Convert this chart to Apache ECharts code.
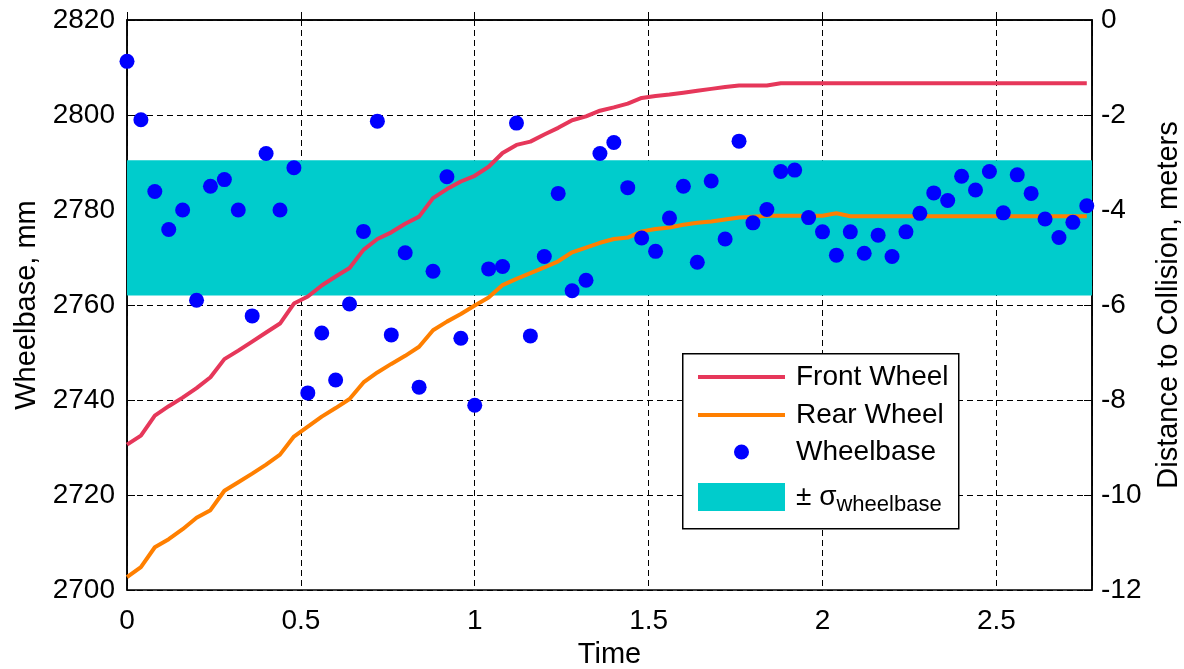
<!DOCTYPE html>
<html><head><meta charset="utf-8">
<script src="https://cdn.jsdelivr.net/npm/echarts@6/dist/echarts.min.js"></script>
<style>html,body{margin:0;padding:0;background:#fff}#c{width:1184px;height:669px}</style>
</head><body><div id="c"></div><script>
const times = [0,0.04,0.08,0.12,0.16,0.2,0.24,0.28,0.32,0.36,0.4,0.44,0.48,0.52,0.56,0.6,0.64,0.68,0.72,0.76,
  0.8,0.84,0.88,0.92,0.96,1.0,1.04,1.08,1.12,1.16,1.2,1.24,1.28,1.32,1.36,1.4,1.44,1.48,1.52,1.56,
  1.6,1.64,1.68,1.72,1.76,1.8,1.84,1.88,1.92,1.96,2.0,2.04,2.08,2.12,2.16,2.2,2.24,2.28,2.32,2.36,
  2.4,2.44,2.48,2.52,2.56,2.6,2.64,2.68,2.72,2.76];
const wheelbase = [2811.3,2799.0,2783.9,2775.9,2780.0,2761.0,2785.0,2786.4,2780.0,2757.7,
  2791.9,2780.0,2788.9,2741.5,2754.1,2744.2,2760.2,2775.5,2798.7,2753.7,
  2771.0,2742.7,2767.1,2787.0,2753.0,2738.9,2767.6,2768.1,2798.3,2753.5,
  2770.2,2783.5,2763.0,2765.2,2791.9,2794.2,2784.7,2774.1,2771.3,2778.3,
  2785.0,2769.0,2786.1,2773.9,2794.5,2777.3,2780.1,2788.1,2788.4,2778.4,
  2775.4,2770.5,2775.4,2770.9,2774.7,2770.2,2775.4,2779.3,2783.6,2782.0,
  2787.1,2784.2,2788.1,2779.4,2787.4,2783.5,2778.1,2774.2,2777.4,2780.9];
const frontWheel = [-8.94,-8.75,-8.33,-8.13,-7.95,-7.75,-7.52,-7.14,-6.96,-6.77,
  -6.58,-6.39,-5.97,-5.82,-5.59,-5.40,-5.22,-4.84,-4.61,-4.47,
  -4.29,-4.14,-3.75,-3.56,-3.40,-3.28,-3.09,-2.80,-2.63,-2.56,
  -2.41,-2.27,-2.11,-2.03,-1.91,-1.84,-1.76,-1.64,-1.60,-1.57,
  -1.53,-1.49,-1.45,-1.41,-1.38,-1.38,-1.38,-1.33,-1.33,-1.33,
  -1.33,-1.33,-1.33,-1.33,-1.33,-1.33,-1.33,-1.33,-1.33,-1.33,
  -1.33,-1.33,-1.33,-1.33,-1.33,-1.33,-1.33,-1.33,-1.33,-1.33];
const rearWheel = [-11.73,-11.52,-11.10,-10.93,-10.72,-10.48,-10.32,-9.91,-9.73,-9.55,
  -9.36,-9.15,-8.77,-8.56,-8.35,-8.17,-7.98,-7.63,-7.42,-7.24,
  -7.07,-6.88,-6.53,-6.35,-6.19,-6.01,-5.84,-5.58,-5.45,-5.33,
  -5.21,-5.08,-4.89,-4.79,-4.69,-4.61,-4.58,-4.45,-4.40,-4.37,
  -4.31,-4.27,-4.24,-4.20,-4.16,-4.14,-4.12,-4.12,-4.12,-4.12,
  -4.12,-4.07,-4.13,-4.13,-4.13,-4.13,-4.13,-4.13,-4.13,-4.13,
  -4.13,-4.13,-4.13,-4.13,-4.13,-4.13,-4.13,-4.13,-4.13,-4.13];
const sigmaBand = [2762, 2790.5];
const xRange = [0, 2.775];
const leftRange = [2700, 2820];
const rightRange = [-12, 0];
const seriesNames = ['Front Wheel', 'Rear Wheel', 'Wheelbase', '± σwheelbase'];

const FONT = 'Liberation Sans, Arial, Helvetica, sans-serif';
const FS = 28;
const FT = 29;
const chart = echarts.init(document.getElementById('c'), null, {renderer: 'canvas'});
const pair = arr => times.map((t, i) => [t, arr[i]]);
const legendText = {fontFamily: FONT, fontSize: FS, color: '#000', lineHeight: 30, padding: [0, 0, 0, 6]};
const legendBase = {left: 698, orient: 'vertical', align: 'left', itemWidth: 87, selectedMode: false, padding: 0, textStyle: legendText};
// dot centred in an 87x15 icon box (corner points only fix the icon extent)
const dotIcon = 'path://M0,0L0,0M87,15L87,15M36,7.5A7.5,7.5,0,1,1,51,7.5A7.5,7.5,0,1,1,36,7.5Z';
chart.setOption({
  backgroundColor: '#fff',
  animation: false,
  textStyle: {fontFamily: FONT},
  grid: {left: 127, right: 92, top: 20, bottom: 79, show: true, borderColor: '#000', borderWidth: 1.5,
    containLabel: false, outerBoundsMode: 'none'},
  xAxis: {
    type: 'value', min: xRange[0], max: xRange[1], interval: 0.5,
    name: 'Time', nameLocation: 'middle', nameGap: 50,
    nameTextStyle: {fontFamily: FONT, fontSize: FT, color: '#000'},
    axisLine: {show: true, lineStyle: {color: '#000', width: 1.5}},
    axisTick: {show: true, inside: true, length: 8, lineStyle: {color: '#000'}},
    axisLabel: {fontFamily: FONT, fontSize: FS, color: '#000', margin: 17, showMaxLabel: false,
      formatter: v => String(v)},
    splitLine: {show: true, lineStyle: {color: '#000', type: [6, 4], width: 1}}
  },
  yAxis: [{
    type: 'value', min: leftRange[0], max: leftRange[1], interval: 20, position: 'left',
    name: 'Wheelbase, mm', nameLocation: 'middle', nameGap: 86, nameRotate: 90,
    nameTextStyle: {fontFamily: FONT, fontSize: FT, color: '#000'},
    axisLine: {show: true, lineStyle: {color: '#000', width: 1.5}},
    axisTick: {show: true, inside: true, length: 8, lineStyle: {color: '#000'}},
    axisLabel: {fontFamily: FONT, fontSize: FS, color: '#000', margin: 12, formatter: v => String(v)},
    splitLine: {show: true, lineStyle: {color: '#000', type: [6, 4], width: 1}}
  }, {
    type: 'value', min: rightRange[0], max: rightRange[1], interval: 2, position: 'right',
    name: 'Distance to Collision, meters', nameLocation: 'middle', nameGap: 62, nameRotate: 90,
    nameTextStyle: {fontFamily: FONT, fontSize: FT, color: '#000'},
    axisLine: {show: true, lineStyle: {color: '#000', width: 1.5}},
    axisTick: {show: true, inside: true, length: 8, lineStyle: {color: '#000'}},
    axisLabel: {fontFamily: FONT, fontSize: FS, color: '#000', margin: 9, formatter: v => String(v)},
    splitLine: {show: false}
  }],
  legend: [
    Object.assign({}, legendBase, {top: 377 - 15, itemHeight: 4, data: [{name: seriesNames[0], icon: 'rect'}]}),
    Object.assign({}, legendBase, {top: 415 - 15, itemHeight: 4, data: [{name: seriesNames[1], icon: 'rect'}]}),
    Object.assign({}, legendBase, {top: 452 - 15, itemHeight: 15, data: [{name: seriesNames[2], icon: dotIcon}]}),
    Object.assign({}, legendBase, {top: 497 - 15, itemHeight: 28, data: [{name: seriesNames[3], icon: 'rect'}],
      formatter: () => '± σ{sub|wheelbase}',
      textStyle: Object.assign({}, legendText, {
        rich: {sub: {fontFamily: FONT, fontSize: 22, color: '#000', padding: [16, 0, 0, 0]}}})})
  ],
  graphic: [{
    type: 'rect', left: 682, top: 353, z: 3,
    shape: {width: 276, height: 175},
    style: {fill: '#fff', stroke: '#000', lineWidth: 1.5}
  }],
  series: [{
    name: seriesNames[3], type: 'line', yAxisIndex: 0, data: [], z: 1,
    itemStyle: {color: '#00CCCC'}, lineStyle: {color: '#00CCCC'},
    markArea: {silent: true, itemStyle: {color: '#00CCCC', opacity: 1},
      data: [[{xAxis: xRange[0], yAxis: sigmaBand[0]}, {xAxis: xRange[1], yAxis: sigmaBand[1]}]]}
  }, {
    name: seriesNames[0], type: 'line', yAxisIndex: 1, data: pair(frontWheel), symbol: 'none', z: 3,
    itemStyle: {color: '#E6375A'}, lineStyle: {color: '#E6375A', width: 4}
  }, {
    name: seriesNames[1], type: 'line', yAxisIndex: 1, data: pair(rearWheel), symbol: 'none', z: 3,
    itemStyle: {color: '#FF7F00'}, lineStyle: {color: '#FF7F00', width: 4}
  }, {
    name: seriesNames[2], type: 'scatter', yAxisIndex: 0, data: pair(wheelbase), symbol: 'circle', symbolSize: 15, z: 4,
    itemStyle: {color: '#0000FF', opacity: 1}
  }]
});
</script></body></html>
